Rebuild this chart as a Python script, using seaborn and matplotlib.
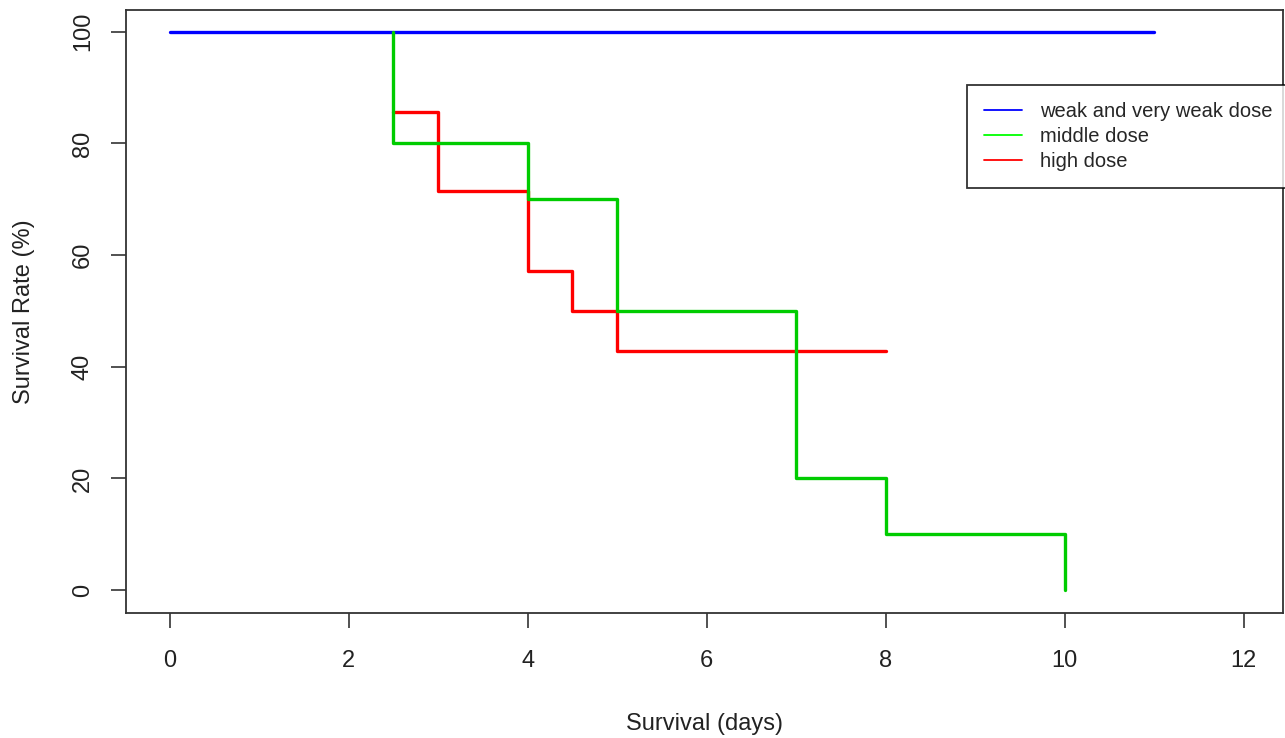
import matplotlib
matplotlib.use("Agg")
import matplotlib.pyplot as plt
from matplotlib.lines import Line2D
import seaborn as sns
import pandas as pd

# ---- data ----
groups = ["weak and very weak dose", "middle dose", "high dose"]
weak_days = [0, 11]
weak_rate = [100, 100]
middle_days = [2.5, 2.5, 4, 5, 7, 8, 10]
middle_rate = [100, 80, 70, 50, 20, 10, 0]
high_days = [2.5, 3, 4, 4.5, 5, 8]
high_rate = [85.7, 71.4, 57.1, 50.0, 42.9, 42.9]
x_ticks = [0, 2, 4, 6, 8, 10, 12]
y_ticks = [0, 20, 40, 60, 80, 100]

line_colors = ["#0000ff", "#00cc00", "#ff0000"]
legend_colors = ["#0000ff", "#00ff00", "#ff0000"]

df = pd.concat([
    pd.DataFrame({"days": weak_days, "rate": weak_rate, "group": groups[0]}),
    pd.DataFrame({"days": middle_days, "rate": middle_rate, "group": groups[1]}),
    pd.DataFrame({"days": high_days, "rate": high_rate, "group": groups[2]}),
], ignore_index=True)

sns.set_style("white")
plt.rcParams["font.family"] = ["Liberation Sans", "DejaVu Sans"]

fig = plt.figure(figsize=(12.85, 7.38), dpi=100)
ax = fig.add_axes([0.098, 0.1694, 0.9004, 0.817])

sns.lineplot(data=df, x="days", y="rate", hue="group", hue_order=groups,
             palette=line_colors, estimator=None, sort=False,
             drawstyle="steps-post", linewidth=2.4, legend=False, ax=ax)
# middle-dose line drawn on top
ax.lines[1].set_zorder(3)

ax.set_xlim(-0.49, 12.44)
ax.set_ylim(-4.1, 103.9)
ax.set_xticks(x_ticks)
ax.set_yticks(y_ticks)
ax.set_yticklabels([str(v) for v in y_ticks], rotation=90, va="center")
ax.tick_params(axis="both", which="both", direction="out", length=11,
               width=1.2, color="#333333", labelsize=17, labelcolor="#222222",
               bottom=True, left=True)
ax.tick_params(axis="x", pad=16)
ax.tick_params(axis="y", pad=12)
for s in ax.spines.values():
    s.set_color("#333333")
    s.set_linewidth(1.3)

ax.set_xlabel("Survival (days)", fontsize=17, color="#222222", labelpad=29)
ax.set_ylabel("Survival Rate (%)", fontsize=17, color="#222222", labelpad=26.5)

handles = [Line2D([0], [0], color=c, lw=1.3) for c in legend_colors]
leg = ax.legend(handles, groups, loc="upper left", bbox_to_anchor=(0.727, 0.876),
                fontsize=14.5, frameon=True, fancybox=False, edgecolor="black",
                handlelength=1.9, handletextpad=0.85, labelspacing=0.3,
                borderpad=0.85, borderaxespad=0)
leg.get_frame().set_linewidth(1.3)

fig.savefig("out.png", dpi=100)
